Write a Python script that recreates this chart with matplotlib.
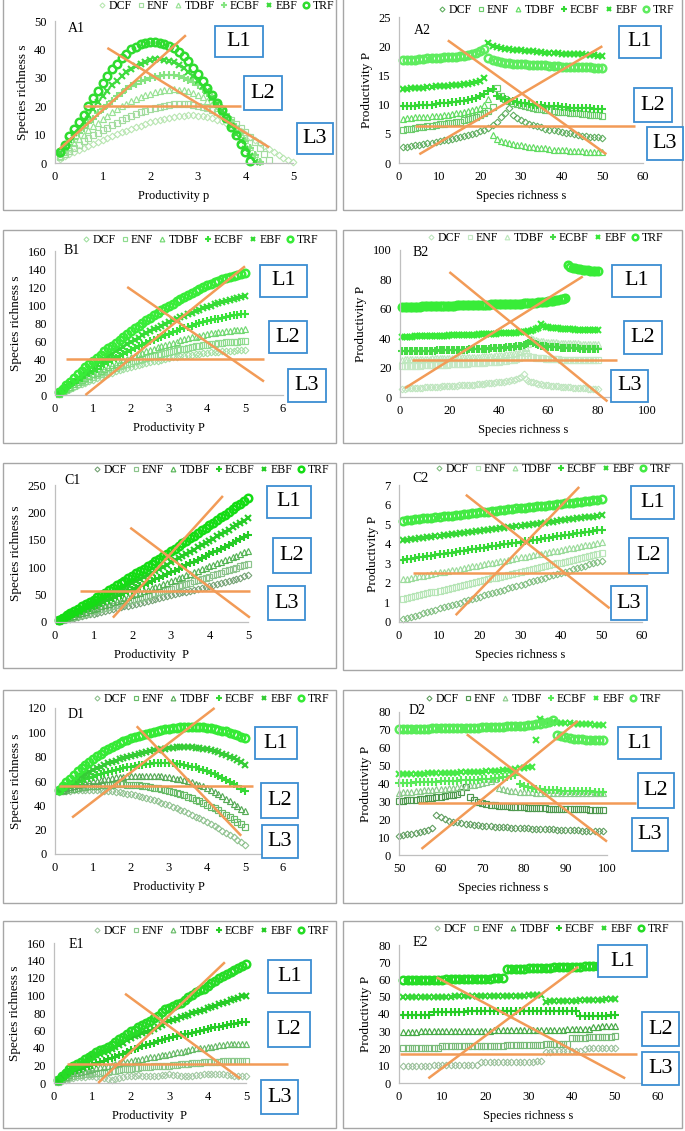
import matplotlib
matplotlib.use("Agg")
import matplotlib.pyplot as plt
from matplotlib.patches import Rectangle

plt.rcParams['font.family'] = ['Liberation Serif', 'DejaVu Serif']

W, H = 685, 1131

# ---- x grids ----
P = [0.1, 0.2, 0.3, 0.4, 0.5, 0.6, 0.7, 0.8, 0.9, 1.0,
     1.1, 1.2, 1.3, 1.4, 1.5, 1.6, 1.7, 1.8, 1.9, 2.0,
     2.1, 2.2, 2.3, 2.4, 2.5, 2.6, 2.7, 2.8, 2.9, 3.0,
     3.1, 3.2, 3.3, 3.4, 3.5, 3.6, 3.7, 3.8, 3.9, 4.0,
     4.1, 4.2, 4.3, 4.4, 4.5, 4.6, 4.7, 4.8, 4.9, 5.0]
S50 = [1, 2, 3, 4, 5, 6, 7, 8, 9, 10, 11, 12, 13, 14, 15, 16, 17, 18, 19, 20,
       21, 22, 23, 24, 25, 26, 27, 28, 29, 30, 31, 32, 33, 34, 35, 36, 37, 38, 39, 40,
       41, 42, 43, 44, 45, 46, 47, 48, 49, 50]
S80 = S50 + [51, 52, 53, 54, 55, 56, 57, 58, 59, 60, 61, 62, 63, 64, 65, 66, 67, 68, 69, 70,
             71, 72, 73, 74, 75, 76, 77, 78, 79, 80]
SD = [50, 51, 52, 53, 54, 55, 56, 57, 58, 59, 60, 61, 62, 63, 64, 65, 66, 67, 68, 69,
      70, 71, 72, 73, 74, 75, 76, 77, 78, 79, 80, 81, 82, 83, 84, 85, 86, 87, 88, 89,
      90, 91, 92, 93, 94, 95, 96, 97, 98, 99]

forests = ["DCF", "ENF", "TDBF", "ECBF", "EBF", "TRF"]

# ---- A1: species richness vs productivity ----
A1_DCF = [1.5, 2.3, 3.1, 3.9, 4.6, 5.3, 6, 6.7, 7.4, 8.1, 8.8, 9.5, 10.2, 10.8, 11.4, 12, 12.6, 13.2, 13.8, 14.3,
          14.8, 15.2, 15.6, 16, 16.3, 16.5, 16.7, 16.8, 16.8, 16.7, 16.5, 16.2, 15.8, 15.3, 14.7, 14, 13.2, 12.3, 11.3, 10.3,
          9.2, 8.1, 7, 5.9, 4.8, 3.8, 2.8, 1.9, 1, 0.3]
A1_ENF = [2, 3, 4.2, 5.4, 6.5, 7.6, 8.7, 9.7, 10.7, 11.6, 12.5, 13.4, 14.2, 15, 15.8, 16.5, 17.2, 17.8, 18.4, 18.9,
          19.4, 19.8, 20.2, 20.5, 20.7, 20.8, 20.8, 20.7, 20.5, 20.2, 19.8, 19.3, 18.7, 18, 17.1, 16.1, 15, 13.8, 12.4, 10.9,
          9.2, 7.4, 5.4, 3.3, 1.1]
A1_TDBF = [2.5, 4, 5.5, 7, 8.5, 10, 11.5, 13, 14.2, 15.5, 16.7, 17.8, 18.9, 19.9, 20.8, 21.7, 22.5, 23.2, 23.8, 24.4,
           24.9, 25.3, 25.6, 25.8, 25.9, 25.8, 25.6, 25.2, 24.7, 24, 23.1, 22, 20.8, 19.4, 17.9, 16.2, 14.3, 12.3, 10.2, 8,
           5.6, 3.2, 0.8]
A1_ECBF = [3, 4.5, 6.5, 8.5, 10.5, 12.5, 14, 15.5, 17.5, 19, 20.5, 22, 23.5, 24.7, 25.9, 27, 27.9, 28.7, 29.4, 30,
           30.4, 30.7, 30.9, 31, 30.9, 30.6, 30.1, 29.4, 28.5, 27.4, 26.1, 24.7, 23.1, 21.3, 19.4, 17.3, 15.1, 12.8, 10.4, 7.9,
           5.3, 2.7, 0.3]
A1_EBF = [3.5, 5.5, 8, 10.5, 12.5, 14.5, 17, 19, 21.5, 23.5, 25.5, 27.5, 29, 30.5, 32, 33.2, 34.2, 35, 35.7, 36.2,
          36.5, 36.6, 36.4, 36, 35.4, 34.6, 33.5, 32.2, 30.7, 29, 27.2, 25.2, 23, 20.7, 18.2, 15.6, 13, 10.3, 7.6, 4.9,
          2.3, 0.3]
A1_TRF = [4, 6.5, 9.5, 12, 14.5, 17, 20, 23, 25.5, 28, 30.5, 33, 35, 37, 38.5, 40, 41, 41.8, 42.3, 42.6,
          42.6, 42.4, 42, 41.3, 40.4, 39.2, 37.7, 35.8, 33.6, 31.2, 28.8, 26.3, 23.8, 21.2, 18.5, 15.7, 12.8, 9.8, 6.8, 3.8,
          0.8]

# ---- A2: productivity vs species richness ----
A2_DCF = [2.7, 2.8, 2.9, 3.0, 3.1, 3.3, 3.4, 3.5, 3.6, 3.8, 3.9, 4.0, 4.1, 4.3, 4.4, 4.6, 4.8, 5.0, 5.2, 5.4,
          5.7, 6.0, 6.5, 7.1, 7.9, 8.6, 9.4, 8.3, 7.7, 7.3, 7.0, 6.7, 6.5, 6.3, 6.1, 5.9, 5.7, 5.6, 5.4, 5.3,
          5.2, 5.1, 4.9, 4.8, 4.7, 4.6, 4.5, 4.4, 4.4, 4.3]
A2_ENF = [5.7, 5.8, 5.9, 6.0, 6.1, 6.2, 6.3, 6.4, 6.5, 6.6, 6.7, 6.8, 6.9, 7.0, 7.1, 7.3, 7.5, 7.7, 7.9, 8.2,
          8.5, 8.9, 9.6, 12.8, 11.4, 10.9, 10.6, 10.3, 10.1, 9.9, 9.7, 9.6, 9.4, 9.3, 9.2, 9.1, 9.0, 8.9, 8.8, 8.8,
          8.7, 8.6, 8.6, 8.5, 8.4, 8.4, 8.3, 8.3, 8.2, 8.1]
A2_TDBF = [7.6, 7.7, 7.7, 7.8, 7.8, 7.9, 7.9, 8.0, 8.1, 8.1, 8.2, 8.3, 8.4, 8.5, 8.6, 8.7, 8.9, 9.0, 9.2, 9.5,
           10.0, 10.9, 4.8, 4.1, 3.8, 3.6, 3.4, 3.3, 3.1, 3.0, 2.9, 2.8, 2.7, 2.6, 2.5, 2.5, 2.4, 2.3, 2.3, 2.2,
           2.2, 2.1, 2.1, 2.0, 2.0, 1.9, 1.9, 1.9, 1.8, 1.8]
A2_ECBF = [9.7, 9.7, 9.8, 9.8, 9.9, 9.9, 10.0, 10.0, 10.1, 10.2, 10.2, 10.3, 10.4, 10.5, 10.6, 10.7, 10.8, 11.0, 11.2, 11.5,
           11.9, 12.4, 12.7, 11.4, 11.1, 10.9, 10.7, 10.6, 10.4, 10.3, 10.2, 10.1, 10.0, 9.9, 9.9, 9.8, 9.8, 9.7, 9.7, 9.6,
           9.6, 9.5, 9.5, 9.5, 9.4, 9.4, 9.4, 9.3, 9.3, 9.3]
A2_EBF = [12.7, 12.7, 12.8, 12.8, 12.9, 12.9, 13.0, 13.0, 13.1, 13.1, 13.2, 13.2, 13.3, 13.4, 13.4, 13.5, 13.6, 13.7, 13.9, 14.1,
          14.5, 20.6, 20.0, 19.8, 19.7, 19.6, 19.5, 19.4, 19.3, 19.3, 19.2, 19.1, 19.1, 19.0, 19.0, 18.9, 18.9, 18.8, 18.8, 18.7,
          18.7, 18.7, 18.6, 18.6, 18.6, 18.5, 18.5, 18.5, 18.4, 18.4]
A2_TRF = [17.6, 17.6, 17.7, 17.7, 17.8, 17.8, 17.9, 17.9, 18.0, 18.0, 18.1, 18.1, 18.2, 18.2, 18.3, 18.4, 18.5, 18.6, 18.8, 19.1,
          19.5, 18.0, 17.6, 17.4, 17.3, 17.2, 17.1, 17.0, 17.0, 16.9, 16.9, 16.8, 16.8, 16.7, 16.7, 16.7, 16.6, 16.6, 16.6, 16.5,
          16.5, 16.5, 16.5, 16.4, 16.4, 16.4, 16.4, 16.3, 16.3, 16.3]

# ---- B1 ----
B1_DCF = [1, 3, 5, 7, 9, 10.6, 12.2, 13.8, 15.4, 17, 18.6, 20.2, 21.8, 23.4, 25, 26.2, 27.4, 28.6, 29.8, 31,
          32.1, 33.2, 34.3, 35.4, 36.5, 37.4, 38.3, 39.2, 40.1, 41, 41.7, 42.4, 43.1, 43.8, 44.5, 45, 45.5, 46, 46.5, 47,
          47.4, 47.8, 48.2, 48.6, 49, 49.2, 49.4, 49.6, 49.8, 50]
B1_ENF = [1, 3.2, 5.4, 7.7, 10, 12, 14, 16, 18, 20, 21.8, 23.6, 25.4, 27.2, 29, 30.4, 31.8, 33.2, 34.6, 36,
          37.3, 38.6, 39.9, 41.2, 42.5, 43.6, 44.7, 45.8, 46.9, 48, 48.9, 49.8, 50.7, 51.6, 52.5, 53.2, 53.9, 54.6, 55.3, 56,
          56.5, 57, 57.5, 58, 58.5, 58.8, 59.1, 59.4, 59.7, 60]
B1_TDBF = [1.5, 4, 6.5, 9, 12, 14.2, 16.4, 18.6, 20.8, 23, 25, 27, 29, 31, 33, 34.8, 36.6, 38.4, 40.2, 42,
           43.6, 45.2, 46.8, 48.4, 50, 51.4, 52.8, 54.2, 55.6, 57, 58.2, 59.4, 60.6, 61.8, 63, 64, 65, 66, 67, 68,
           68.6, 69.2, 69.8, 70.4, 71, 71.4, 71.8, 72.2, 72.6, 73]
B1_ECBF = [2, 5, 8, 11, 14, 16.6, 19.2, 21.8, 24.4, 27, 29.4, 31.8, 34.2, 36.6, 39, 41.2, 43.4, 45.6, 47.8, 50,
           52, 54, 56, 58, 60, 61.6, 63.2, 64.8, 66.4, 68, 69.6, 71.2, 72.8, 74.4, 76, 77.2, 78.4, 79.6, 80.8, 82,
           83, 84, 85, 86, 87, 87.7, 88.4, 89.1, 89.8, 90.5]
B1_EBF = [2.5, 6, 9.5, 13, 16, 19.2, 22.4, 25.6, 28.8, 32, 34.8, 37.6, 40.4, 43.2, 46, 48.6, 51.2, 53.8, 56.4, 59,
          61.4, 63.8, 66.2, 68.6, 71, 73, 75, 77, 79, 81, 82.8, 84.6, 86.4, 88.2, 90, 91.6, 93.2, 94.8, 96.4, 98,
          99.3, 100.6, 101.9, 103.2, 104.5, 105.7, 106.9, 108.1, 109.3, 110.5]
B1_TRF = [3, 7, 11, 15, 19, 23, 27, 31, 34.5, 38, 41.5, 45, 48.5, 52, 55, 58.3, 61.5, 64.7, 67.9, 71,
          74, 77, 80, 83, 86, 88.7, 91.3, 94, 96.5, 99, 101.5, 104, 106.4, 108.7, 111, 113.2, 115.4, 117.6, 119.8, 122,
          123.7, 125.4, 127, 128.5, 130, 131.3, 132.5, 133.7, 134.9, 136]

# ---- B2 ----
B2_DCF = [5.6, 5.7, 5.8, 5.9, 6.0, 6.1, 6.2, 6.3, 6.4, 6.5, 6.6, 6.7, 6.8, 6.9, 7.0, 7.1, 7.2, 7.3, 7.4, 7.5,
          7.6, 7.7, 7.8, 7.9, 8.0, 8.1, 8.2, 8.3, 8.4, 8.5, 8.7, 8.8, 8.9, 9.1, 9.2, 9.4, 9.5, 9.7, 9.9, 10.1,
          10.3, 10.5, 10.8, 11.1, 11.4, 11.8, 12.3, 12.9, 13.8, 15.8, 12.2, 11.2, 10.5, 10.0, 9.5, 9.1, 8.8, 8.5, 8.2, 8.0,
          7.8, 7.6, 7.4, 7.2, 7.0, 6.9, 6.7, 6.6, 6.5, 6.3, 6.2, 6.1, 6.0, 5.9, 5.8, 5.7, 5.6, 5.5, 5.4, 5.3]
B2_ENF = [21.0, 21.1, 21.1, 21.2, 21.2, 21.3, 21.4, 21.4, 21.5, 21.5, 21.6, 21.7, 21.7, 21.8, 21.9, 21.9, 22.0, 22.1, 22.1, 22.2,
          22.3, 22.3, 22.4, 22.5, 22.6, 22.6, 22.7, 22.8, 22.9, 23.0, 23.1, 23.2, 23.3, 23.4, 23.5, 23.6, 23.7, 23.8, 24.0, 24.1,
          24.3, 24.5, 24.7, 24.9, 25.2, 25.5, 25.9, 26.4, 27.0, 28.0, 29.6, 28.0, 27.4, 27.0, 26.7, 26.5, 26.3, 26.2, 26.0, 25.9,
          25.8, 25.7, 25.7, 25.6, 25.5, 25.5, 25.4, 25.4, 25.3, 25.3, 25.2, 25.2, 25.2, 25.1, 25.1, 25.1, 25.0, 25.0, 25.0, 24.9]
B2_TDBF = [25.5, 25.6, 25.6, 25.7, 25.7, 25.8, 25.8, 25.9, 25.9, 26.0, 26.0, 26.1, 26.2, 26.2, 26.3, 26.3, 26.4, 26.5, 26.5, 26.6,
           26.7, 26.7, 26.8, 26.9, 26.9, 27.0, 27.1, 27.2, 27.3, 27.3, 27.4, 27.5, 27.6, 27.7, 27.8, 27.9, 28.0, 28.2, 28.3, 28.5,
           28.6, 28.8, 29.0, 29.2, 29.5, 29.8, 30.1, 30.5, 31.0, 31.7, 33.0, 36.0, 40.0, 39.3, 38.8, 38.4, 38.1, 37.9, 37.7, 37.5,
           37.4, 37.2, 37.1, 37.0, 36.9, 36.8, 36.7, 36.6, 36.6, 36.5, 36.4, 36.4, 36.3, 36.3, 36.2, 36.2, 36.1, 36.1, 36.0, 36.0]
B2_ECBF = [31.0, 31.0, 31.1, 31.1, 31.2, 31.2, 31.3, 31.3, 31.4, 31.4, 31.5, 31.5, 31.6, 31.6, 31.7, 31.7, 31.8, 31.8, 31.9, 31.9,
           32.0, 32.0, 32.1, 32.1, 32.2, 32.2, 32.3, 32.4, 32.4, 32.5, 32.6, 32.6, 32.7, 32.8, 32.9, 32.9, 33.0, 33.1, 33.2, 33.3,
           33.4, 33.5, 33.7, 33.8, 34.0, 34.2, 34.4, 34.7, 35.0, 35.4, 36.0, 36.8, 38.0, 36.4, 35.8, 35.3, 35.0, 34.7, 34.5, 34.3,
           34.1, 34.0, 33.8, 33.7, 33.6, 33.5, 33.4, 33.3, 33.2, 33.1, 33.1, 33.0, 32.9, 32.9, 32.8, 32.8, 32.7, 32.7, 32.6, 32.6]
B2_EBF = [40.9, 41.0, 41.0, 41.1, 41.1, 41.2, 41.2, 41.3, 41.3, 41.4, 41.4, 41.5, 41.5, 41.6, 41.6, 41.7, 41.7, 41.8, 41.8, 41.9,
          41.9, 42.0, 42.0, 42.1, 42.1, 42.2, 42.3, 42.3, 42.4, 42.4, 42.5, 42.6, 42.6, 42.7, 42.8, 42.8, 42.9, 43.0, 43.1, 43.2,
          43.2, 43.3, 43.4, 43.5, 43.6, 43.7, 43.8, 44.0, 44.1, 44.3, 44.5, 44.8, 45.1, 45.5, 46.1, 47.0, 49.6, 48.3, 47.8, 47.5,
          47.2, 47.0, 46.8, 46.7, 46.5, 46.4, 46.3, 46.2, 46.1, 46.0, 45.9, 45.9, 45.8, 45.7, 45.7, 45.6, 45.6, 45.5, 45.5, 45.4]
B2_TRF = [61.2, 61.2, 61.3, 61.3, 61.4, 61.4, 61.5, 61.5, 61.6, 61.6, 61.7, 61.7, 61.8, 61.8, 61.9, 61.9, 62.0, 62.0, 62.1, 62.1,
          62.2, 62.2, 62.3, 62.3, 62.4, 62.4, 62.5, 62.5, 62.6, 62.6, 62.7, 62.7, 62.8, 62.8, 62.9, 62.9, 63.0, 63.0, 63.1, 63.1,
          63.2, 63.2, 63.3, 63.3, 63.4, 63.4, 63.5, 63.5, 63.6, 63.7, 63.8, 63.9, 64.0, 64.1, 64.2, 64.3, 64.4, 64.6, 64.8, 65.0,
          65.2, 65.5, 65.8, 66.1, 66.5, 67.0, 67.6, 89.5, 88.6, 88.0, 87.5, 87.1, 86.8, 86.5, 86.3, 86.1, 85.9, 85.8, 85.6, 85.5]

# ---- C1 ----
C1_DCF = [1.5, 3, 4.6, 6.1, 7.6, 9.2, 10.7, 12.3, 13.8, 15.4, 17, 18.6, 20.2, 21.8, 23.4, 25.1, 26.7, 28.4, 30, 31.7,
          33.3, 35, 36.7, 38.4, 40, 41.7, 43.5, 45.2, 46.9, 48.7, 50.4, 52.1, 53.9, 55.6, 57.4, 59.2, 61, 62.8, 64.6, 66.4,
          68.2, 70, 71.9, 73.7, 75.6, 77.4, 79.3, 81.2, 83.1, 85]
C1_ENF = [1.9, 3.8, 5.7, 7.6, 9.5, 11.5, 13.4, 15.4, 17.3, 19.3, 21.3, 23.3, 25.3, 27.3, 29.3, 31.3, 33.4, 35.4, 37.5, 39.6,
          41.6, 43.7, 45.8, 47.9, 50, 52.2, 54.3, 56.5, 58.6, 60.8, 63, 65.1, 67.4, 69.6, 71.8, 74, 76.2, 78.5, 80.7, 83,
          85.3, 87.6, 89.9, 92.2, 94.5, 96.8, 99.2, 101.5, 103.9, 106.2]
C1_TDBF = [2.3, 4.6, 7, 9.3, 11.7, 14, 16.4, 18.8, 21.2, 23.6, 26, 28.5, 30.9, 33.4, 35.8, 38.3, 40.8, 43.4, 45.9, 48.4,
           50.9, 53.5, 56.1, 58.7, 61.2, 63.8, 66.5, 69.1, 71.7, 74.4, 77, 79.7, 82.4, 85.1, 87.8, 90.6, 93.3, 96, 98.8, 101.5,
           104.3, 107.1, 109.9, 112.8, 115.6, 118.5, 121.3, 124.2, 127.1, 130]
C1_ECBF = [2.8, 5.6, 8.5, 11.3, 14.2, 17.1, 20, 22.9, 25.8, 28.7, 31.7, 34.7, 37.7, 40.6, 43.6, 46.7, 49.7, 52.8, 55.9, 59,
           62, 65.1, 68.3, 71.4, 74.6, 77.7, 80.9, 84.1, 87.3, 90.6, 93.8, 97, 100.3, 103.6, 106.9, 110.2, 113.5, 116.9, 120.3, 123.6,
           127, 130.4, 133.8, 137.3, 140.8, 144.2, 147.7, 151.2, 154.7, 158.2]
C1_EBF = [3.4, 6.8, 10.2, 13.6, 17, 20.5, 24, 27.5, 31, 34.5, 38, 41.6, 45.2, 48.8, 52.4, 56, 59.7, 63.4, 67.1, 70.8,
          74.5, 78.2, 82, 85.8, 89.6, 93.4, 97.2, 101, 104.8, 108.7, 112.6, 116.5, 120.4, 124.3, 128.2, 132.2, 136.2, 140.2, 144.2, 148.2,
          152.2, 156.2, 160.3, 164.4, 168.5, 172.6, 176.7, 180.8, 184.9, 189]
C1_TRF = [4.0, 8.0, 12.1, 16.2, 20.3, 24.4, 28.5, 32.7, 36.8, 41.0, 45.3, 49.5, 53.8, 58.0, 62.3, 66.7, 71.0, 75.4, 79.8, 84.2,
          88.6, 93.0, 97.5, 102.0, 106.5, 111.0, 115.6, 120.2, 124.7, 129.4, 134.0, 138.6, 143.3, 148.0, 152.7, 157.5, 162.2, 167.0, 171.8, 176.6,
          181.5, 186.3, 191.2, 196.1, 201.1, 206.0, 211.0, 216.0, 221.0, 226.0]

# ---- C2 ----
C2_DCF = [0.14, 0.20, 0.26, 0.32, 0.38, 0.44, 0.50, 0.57, 0.63, 0.69, 0.75, 0.81, 0.87, 0.93, 0.99, 1.05, 1.11, 1.17, 1.23, 1.30,
          1.36, 1.42, 1.48, 1.54, 1.60, 1.66, 1.72, 1.78, 1.84, 1.90, 1.96, 2.02, 2.09, 2.15, 2.21, 2.27, 2.33, 2.39, 2.45, 2.51,
          2.57, 2.63, 2.69, 2.75, 2.81, 2.88, 2.94, 3.00, 3.06, 3.12]
C2_ENF = [1.17, 1.22, 1.27, 1.31, 1.36, 1.41, 1.46, 1.51, 1.55, 1.60, 1.65, 1.70, 1.75, 1.79, 1.84, 1.89, 1.94, 1.99, 2.03, 2.08,
          2.13, 2.18, 2.23, 2.27, 2.32, 2.37, 2.42, 2.47, 2.51, 2.56, 2.61, 2.66, 2.71, 2.75, 2.80, 2.85, 2.90, 2.95, 2.99, 3.04,
          3.09, 3.14, 3.19, 3.23, 3.28, 3.33, 3.38, 3.43, 3.47, 3.52]
C2_TDBF = [2.18, 2.22, 2.26, 2.30, 2.33, 2.37, 2.41, 2.45, 2.49, 2.53, 2.57, 2.60, 2.64, 2.68, 2.72, 2.76, 2.80, 2.84, 2.87, 2.91,
           2.95, 2.99, 3.03, 3.07, 3.11, 3.14, 3.18, 3.22, 3.26, 3.30, 3.34, 3.38, 3.41, 3.45, 3.49, 3.53, 3.57, 3.61, 3.65, 3.68,
           3.72, 3.76, 3.80, 3.84, 3.88, 3.92, 3.95, 3.99, 4.03, 4.07]
C2_ECBF = [3.17, 3.20, 3.23, 3.26, 3.30, 3.33, 3.36, 3.39, 3.42, 3.45, 3.49, 3.52, 3.55, 3.58, 3.61, 3.64, 3.68, 3.71, 3.74, 3.77,
           3.80, 3.83, 3.87, 3.90, 3.93, 3.96, 3.99, 4.02, 4.05, 4.09, 4.12, 4.15, 4.18, 4.21, 4.24, 4.28, 4.31, 4.34, 4.37, 4.40,
           4.43, 4.47, 4.50, 4.53, 4.56, 4.59, 4.62, 4.66, 4.69, 4.72]
C2_EBF = [4.17, 4.20, 4.22, 4.25, 4.27, 4.30, 4.33, 4.35, 4.38, 4.40, 4.43, 4.46, 4.48, 4.51, 4.53, 4.56, 4.59, 4.61, 4.64, 4.67,
          4.69, 4.72, 4.74, 4.77, 4.80, 4.82, 4.85, 4.87, 4.90, 4.93, 4.95, 4.98, 5.00, 5.03, 5.06, 5.08, 5.11, 5.13, 5.16, 5.19,
          5.21, 5.24, 5.26, 5.29, 5.32, 5.34, 5.37, 5.39, 5.42, 5.45]
C2_TRF = [5.18, 5.20, 5.22, 5.25, 5.27, 5.29, 5.31, 5.33, 5.36, 5.38, 5.40, 5.42, 5.44, 5.47, 5.49, 5.51, 5.53, 5.55, 5.58, 5.60,
          5.62, 5.64, 5.66, 5.69, 5.71, 5.73, 5.75, 5.77, 5.80, 5.82, 5.84, 5.86, 5.88, 5.91, 5.93, 5.95, 5.97, 5.99, 6.02, 6.04,
          6.06, 6.08, 6.10, 6.13, 6.15, 6.17, 6.19, 6.21, 6.24, 6.26]

# ---- D1 ----
D1_DCF = [51, 51.4, 51.7, 52, 52.2, 52.4, 52.5, 52.6, 52.6, 52.6, 52.5, 52.3, 52.1, 51.8, 51.5, 51.1, 50.7, 50.2, 49.6, 49,
          48.3, 47.6, 46.8, 46, 45.1, 44.2, 43.2, 42.2, 41.1, 40, 38.8, 37.6, 36.3, 35, 33.6, 32.2, 30.7, 29.2, 27.6, 26,
          24.4, 22.7, 21, 19.2, 17.4, 15.5, 13.6, 11.6, 9.6, 7.5]
D1_ENF = [51.5, 52.1, 52.7, 53.3, 53.8, 54.3, 54.8, 55.2, 55.6, 56, 56.3, 56.6, 56.8, 57, 57.1, 57.2, 57.2, 57.2, 57.1, 56.9,
          56.7, 56.4, 56, 55.6, 55.1, 54.6, 54, 53.3, 52.6, 51.8, 51, 50.1, 49.1, 48.1, 47, 45.8, 44.6, 43.3, 41.9, 40.5,
          39, 37.4, 35.8, 34.1, 32.3, 30.4, 28.5, 26.5, 24.4, 22.3]
D1_TDBF = [52, 53, 54, 55, 55.9, 56.8, 57.6, 58.4, 59.1, 59.8, 60.4, 61, 61.5, 62, 62.5, 62.9, 63.3, 63.6, 63.9, 64.1,
           64.3, 64.4, 64.5, 64.5, 64.4, 64.3, 64.1, 63.8, 63.4, 63, 62.5, 61.9, 61.3, 60.6, 59.8, 58.9, 57.9, 56.8, 55.5, 54.1,
           52.5, 51, 49.3, 47.5, 45.6, 43.6, 41.5, 39.4, 37.2, 35]
D1_ECBF = [52, 53.5, 55, 56.4, 57.7, 59, 60.2, 61.4, 62.5, 63.6, 64.6, 65.6, 66.5, 67.4, 68.2, 69, 69.8, 70.5, 71.2, 71.8,
           72.4, 72.9, 73.4, 73.8, 74.1, 74.4, 74.6, 74.7, 74.7, 74.6, 74.4, 74.1, 73.7, 73.2, 72.6, 71.9, 71.1, 70.2, 69.2, 68.1,
           66.9, 65.6, 64.2, 62.7, 61.1, 59.4, 57.6, 55.7, 53.7, 51.6]
D1_EBF = [52, 54.3, 56.5, 58.6, 60.6, 62.5, 64.3, 66, 67.6, 69.1, 70.5, 71.9, 73.2, 74.4, 75.6, 76.7, 77.8, 78.8, 79.8, 80.7,
          81.6, 82.4, 83.2, 83.9, 84.6, 85.2, 85.8, 86.3, 86.7, 87.1, 87.4, 87.6, 87.7, 87.8, 87.8, 87.7, 87.4, 87, 86.5, 85.9,
          85.2, 84.4, 83.5, 82.5, 81.4, 80.1, 78.7, 77.1, 75.3, 73.4]
D1_TRF = [52.2, 55.6, 58.9, 62, 65, 67.9, 70.6, 73.2, 75.7, 78.1, 80.3, 82.4, 84.4, 86.3, 88, 89.6, 91.1, 92.5, 93.8, 95,
          96.1, 97.1, 98.1, 99, 99.8, 100.6, 101.3, 101.9, 102.5, 103, 103.4, 103.8, 104.1, 104.3, 104.4, 104.5, 104.4, 104.3, 104, 103.7,
          103.3, 102.8, 102.2, 101.5, 100.7, 99.8, 98.8, 97.7, 96.4, 95]

# ---- D2 ----
D2_DCF = [10.8, 11.1, 11.5, 11.9, 12.3, 12.8, 13.4, 14.2, 15.3, 22.3, 21.0, 20.0, 19.3, 18.7, 18.2, 17.8, 17.5, 17.2, 16.9, 16.7,
          16.5, 16.3, 16.1, 15.9, 15.8, 15.6, 15.5, 15.3, 15.2, 15.1, 15.0, 14.9, 14.8, 14.7, 14.6, 14.5, 14.4, 14.3, 14.2, 14.1,
          14.0, 14.0, 13.9, 13.8, 13.7, 13.7, 13.6, 13.5, 13.5, 13.4]
D2_ENF = [30.2, 30.4, 30.6, 30.8, 31.0, 31.2, 31.4, 31.7, 31.9, 32.2, 32.5, 32.9, 33.3, 33.8, 34.4, 35.2, 37.8, 32.6, 30.8, 29.8,
          29.1, 28.6, 28.2, 27.9, 27.6, 27.4, 27.2, 27.0, 26.8, 26.7, 26.6, 26.5, 26.4, 26.3, 26.2, 26.1, 26.0, 25.9, 25.9, 25.8,
          25.7, 25.7, 25.6, 25.6, 25.5, 25.5, 25.4, 25.4, 25.3, 25.3]
D2_TDBF = [34.9, 35.1, 35.3, 35.5, 35.7, 35.9, 36.1, 36.3, 36.5, 36.7, 36.9, 37.1, 37.4, 37.6, 37.9, 38.2, 38.6, 39.0, 39.4, 39.8,
           40.3, 40.9, 41.6, 42.4, 37.6, 36.8, 36.3, 35.9, 35.6, 35.4, 35.2, 35.1, 35.0, 34.9, 34.9, 34.8, 34.8, 34.7, 34.7, 34.7,
           34.6, 34.6, 34.6, 34.6, 34.5, 34.5, 34.5, 34.5, 34.5, 34.5]
D2_ECBF = [40.2, 40.3, 40.4, 40.5, 40.6, 40.7, 40.8, 40.9, 41.0, 41.1, 41.2, 41.3, 41.4, 41.5, 41.6, 41.7, 41.8, 41.9, 42.0, 42.1,
           42.3, 42.5, 42.7, 42.9, 43.2, 43.5, 43.8, 44.2, 44.6, 40.0, 38.8, 38.0, 37.4, 37.0, 36.7, 36.5, 36.3, 36.2, 36.1, 36.0,
           35.9, 35.8, 35.8, 35.7, 35.7, 35.6, 35.6, 35.5, 35.5, 35.5]
D2_EBF = [45.2, 45.3, 45.3, 45.4, 45.4, 45.5, 45.5, 45.6, 45.7, 45.7, 45.8, 45.9, 45.9, 46.0, 46.1, 46.2, 46.3, 46.4, 46.5, 46.6,
          46.7, 46.8, 46.9, 47.0, 47.2, 47.4, 47.6, 47.8, 48.1, 48.4, 48.8, 49.1, 49.5, 64.6, 75.9, 75.0, 74.5, 74.2, 74.0, 73.8,
          73.7, 73.6, 73.5, 73.4, 73.3, 73.2, 73.1, 73.0, 72.9, 72.9]
D2_TRF = [70.4, 70.4, 70.5, 70.5, 70.6, 70.6, 70.7, 70.7, 70.8, 70.8, 70.9, 70.9, 71.0, 71.0, 71.1, 71.1, 71.2, 71.2, 71.3, 71.3,
          71.4, 71.5, 71.5, 71.6, 71.7, 71.8, 71.9, 72.0, 72.1, 72.2, 72.4, 72.6, 72.8, 73.1, 73.5, 74.0, 74.6, 75.3, 67.0, 66.3,
          65.8, 65.4, 65.1, 64.9, 64.7, 64.5, 64.4, 64.3, 64.2, 64.1]

# ---- E1 ----
E1_DCF = [1, 2.5, 4, 5, 6, 6.5, 7, 7, 7.5, 7.5, 7, 6.5, 6, 5, 4, 5, 6, 7, 7.5, 8,
          8.5, 9, 8.5, 8, 7.5, 8, 8.5, 9, 9.5, 10, 9.5, 9, 8.5, 8, 7.5, 8, 9, 9.5, 10, 10,
          10.5, 10, 10.5, 10, 9.5, 9, 8.5, 8.5, 8, 8]
E1_ENF = [1.5, 3.5, 5.5, 7, 8, 9, 9.5, 10, 10.5, 11, 11.5, 12, 12.5, 13, 13.5, 14, 15, 15.5, 16, 16.5,
          17, 17.5, 18, 18, 18.5, 19, 19.5, 19.5, 20, 20, 20.5, 21, 21.5, 22, 22, 22.5, 23, 23, 23.5, 23.5,
          24, 24.5, 24.5, 25, 25, 25, 25.5, 25.5, 25.5, 25.5]
E1_TDBF = [2, 4.5, 7, 9, 11, 12, 13, 14, 15, 16, 17, 18, 18.5, 19.5, 20.5, 21.5, 22.5, 23.5, 24.5, 25.5,
           26, 26.5, 27.5, 28.5, 29.5, 30, 31, 32, 32.5, 33, 34, 35, 35.5, 36.5, 37.5, 38.5, 39.5, 40, 40.5, 41,
           41.5, 42.5, 43.5, 44, 44.5, 44.5, 45, 45, 45, 45]
E1_ECBF = [2.5, 5.5, 8.5, 11, 13.5, 15, 16.5, 18, 19.5, 21, 22.5, 24, 25.5, 27, 28.5, 30, 31.5, 33.5, 35.5, 37.5,
           39, 40.5, 42, 43.5, 45, 46, 47.5, 49, 50.5, 51.5, 52.5, 53.5, 54.5, 55.5, 56.5, 57.5, 58.5, 59.5, 60.5, 61.5,
           62.5, 63.5, 64.5, 65.5, 66.5, 67.3, 68, 68.8, 69.5, 70]
E1_EBF = [3, 7, 11, 14.5, 18, 20.5, 23, 25.5, 27.5, 29.5, 31.5, 33.5, 35.5, 37, 39, 41, 43, 46, 49, 51.5,
          53.5, 55, 57, 58.5, 60, 62, 64, 66.5, 69, 70.5, 72, 73.5, 75, 76.5, 78, 79.5, 81, 82.5, 84, 85.5,
          87, 88.5, 90, 91.5, 93, 94.5, 96, 97.5, 99, 100]
E1_TRF = [3, 8, 12, 16, 19.5, 22, 24.5, 27, 29.5, 32, 35, 37.5, 39, 41, 43.5, 46.5, 50, 53, 56, 59,
          61, 63.5, 66, 68.5, 71, 74, 77, 81, 84.5, 86, 88, 90, 92, 95, 98, 101, 104, 106, 108, 111,
          114, 117, 120, 122.5, 125, 127, 129.5, 131.5, 134, 136]

# ---- E2 ----
E2_DCF = [9.9, 9.9, 10.0, 10.0, 10.1, 10.1, 10.1, 10.2, 10.2, 10.3, 10.3, 10.3, 10.4, 10.4, 10.5, 10.5, 10.5, 10.6, 12.0, 12.0,
          12.1, 12.1, 12.2, 12.2, 12.2, 12.3, 12.3, 12.3, 12.4, 12.4, 12.4, 12.5, 12.5, 18.2, 18.2, 18.3, 18.3, 18.4, 18.4, 18.5,
          18.5, 18.6, 20.0, 20.1, 20.1, 20.2, 20.2, 20.3, 20.3, 20.4]
E2_ENF = [20.1, 20.1, 20.2, 20.2, 20.3, 20.3, 20.4, 20.4, 20.5, 21.2, 21.2, 21.3, 21.3, 21.4, 21.4, 21.5, 21.5, 21.5, 21.6, 21.6,
          21.6, 21.7, 21.7, 21.7, 21.8, 21.8, 21.8, 21.9, 21.9, 21.9, 22.0, 22.0, 22.0, 22.6, 22.6, 22.7, 22.7, 22.8, 22.8, 26.0,
          26.1, 26.2, 26.3, 26.4, 26.5, 26.6, 26.7, 26.8, 26.9, 27.0]
E2_TDBF = [29.7, 29.7, 29.8, 29.8, 29.9, 29.9, 29.9, 30.0, 30.0, 30.1, 30.1, 30.1, 30.2, 30.2, 30.2, 30.3, 30.3, 30.3, 30.4, 30.4,
           30.4, 30.5, 30.5, 30.5, 30.6, 30.6, 30.6, 30.7, 30.7, 30.7, 30.8, 30.8, 30.8, 30.9, 30.9, 30.9, 31.0, 31.0, 31.1, 31.1,
           31.2, 31.2, 31.3, 31.3, 32.6, 32.7, 32.8, 32.9, 33.0, 33.1]
E2_ECBF = [39.3, 39.3, 39.4, 39.4, 39.4, 39.5, 39.5, 41.2, 41.2, 41.3, 41.3, 41.3, 41.4, 41.4, 41.4, 41.5, 41.5, 41.5, 41.6, 41.6,
           41.6, 41.6, 41.7, 41.7, 41.7, 41.7, 41.7, 41.8, 41.8, 41.8, 41.8, 41.8, 41.8, 41.8, 41.8, 41.8, 41.8, 41.8, 41.8, 41.8,
           41.8, 39.0, 39.0, 39.0, 39.1, 39.1, 39.1, 39.1, 39.2, 39.2]
E2_EBF = [49.7, 49.7, 49.8, 49.8, 49.9, 49.9, 50.0, 50.0, 50.0, 50.1, 50.1, 50.1, 50.2, 50.2, 50.2, 50.3, 50.3, 50.3, 50.4, 50.4,
          50.4, 50.5, 50.5, 50.5, 50.6, 50.6, 50.6, 50.7, 50.7, 50.8, 50.8, 50.9, 50.9, 47.2, 47.3, 47.4, 47.5, 47.6, 47.7, 47.8,
          47.8, 47.9, 48.0, 48.1, 48.2, 48.3, 48.4, 48.5, 48.6, 48.7]
E2_TRF = [59.7, 59.7, 59.8, 59.8, 59.8, 59.9, 59.9, 59.9, 60.0, 60.0, 60.1, 60.1, 60.2, 60.2, 60.3, 60.3, 60.4, 60.4, 60.5, 60.5,
          60.5, 60.6, 60.6, 60.7, 65.9, 66.0, 66.1, 66.2, 66.3, 66.4, 66.5, 66.6, 66.7, 66.8, 66.9, 67.0, 67.0, 67.1, 67.2, 67.3,
          67.4, 67.5, 67.6, 67.7, 67.8, 67.8, 67.9, 68.0, 68.1, 68.2]

# ---- orange guide lines: (x0, x1), (y0, y1) for rising, falling, flat ----
A1_LX = [[0.1, 2.75], [1.1, 4.5], [0.6, 3.9]];    A1_LY = [[5, 45], [40.5, 5.5], [20, 20]]
A2_LX = [[5, 50], [12, 51], [4, 58]];             A2_LY = [[1.5, 20], [21, 1.5], [6.3, 6.3]]
B1_LX = [[0.8, 5], [1.9, 5.5], [0.3, 5.5]];       B1_LY = [[0, 143], [120, 15], [40, 40]]
B2_LX = [[2, 74], [20, 84], [5, 88]];             B2_LY = [[6, 82], [85, -3], [25, 25]]
C1_LX = [[1.5, 4.35], [1.95, 5.05], [0.65, 5.05]]; C1_LY = [[8, 230], [172, 8], [57, 57]]
C2_LX = [[14, 44.5], [16.5, 52], [3.5, 61.5]];    C2_LY = [[0.35, 6.9], [6.5, 0.7], [2.5, 2.5]]
D1_LX = [[0.45, 4.2], [2.15, 4.9], [0.1, 5.2]];   D1_LY = [[30, 120], [105, 15], [56, 56]]
D2_LX = [[55.4, 93], [66.3, 100], [54.5, 107]];   D2_LY = [[3.4, 75], [67.5, 7.5], [29.3, 29.3]]
E1_LX = [[1.15, 4.45], [1.85, 4.85], [0.35, 6.1]]; E1_LY = [[0, 138], [102, 5], [22, 22]]
E2_LX = [[6.8, 41.5], [8.7, 52.4], [0.2, 55.1]];  E2_LY = [[2.7, 67.4], [61.3, 2.7], [16.6, 16.6]]

# marker style per forest type: marker, size, edge width
MK = {"DCF": ("D", 3.4, 0.8), "ENF": ("s", 4.3, 0.85), "TDBF": ("^", 4.5, 0.85),
      "ECBF": ("+", 6.0, 1.5), "EBF": ("x", 4.8, 1.5), "TRF": ("o", 5.4, 1.8)}

panels = [
    dict(tag="A1", x=P, ys=[A1_DCF, A1_ENF, A1_TDBF, A1_ECBF, A1_EBF, A1_TRF],
         cols=["#b9e6b2", "#a3dc9f", "#98e294", "#86e482", "#3fdc3f", "#2fdc2f"],
         xlim=(0, 5), ylim=(0, 50), xt=[0, 1, 2, 3, 4, 5], yt=[0, 10, 20, 30, 40, 50],
         px=(55, 293, 21, 163), xl="Productivity p", yl="Species richness s",
         lx=A1_LX, ly=A1_LY, leg=(334, 6), tp=(68, 29), border=(3, -2, 336, 210),
         boxes=[(215, 26, 263, 57), (244, 76, 282, 110), (297, 123, 333, 154)]),
    dict(tag="A2", x=S50, ys=[A2_DCF, A2_ENF, A2_TDBF, A2_ECBF, A2_EBF, A2_TRF],
         cols=["#5fae5f", "#6ccb6c", "#62dc62", "#35d835", "#35e035", "#5fec5f"],
         xlim=(0, 60), ylim=(0, 25), xt=[0, 10, 20, 30, 40, 50, 60], yt=[0, 5, 10, 15, 20, 25],
         px=(399, 643, 17, 163), xl="Species richness s", yl="Productivity P",
         lx=A2_LX, ly=A2_LY, leg=(674, 10), tp=(414, 30), border=(343, -2, 682, 210),
         boxes=[(619, 26, 661, 58), (634, 88, 672, 122), (647, 127, 683, 160)]),
    dict(tag="B1", x=P, ys=[B1_DCF, B1_ENF, B1_TDBF, B1_ECBF, B1_EBF, B1_TRF],
         cols=["#a2e0a2", "#8fdc8f", "#72d872", "#38e238", "#35dc35", "#38ec38"],
         xlim=(0, 6), ylim=(0, 160), xt=[0, 1, 2, 3, 4, 5, 6], yt=[0, 20, 40, 60, 80, 100, 120, 140, 160],
         px=(55, 283, 251, 395), xl="Productivity P", yl="Species richness s",
         lx=B1_LX, ly=B1_LY, leg=(318, 240), tp=(64, 251), border=(3, 230, 336, 443),
         boxes=[(260, 265, 307, 297), (269, 321, 307, 353), (288, 369, 326, 402)]),
    dict(tag="B2", x=S80, ys=[B2_DCF, B2_ENF, B2_TDBF, B2_ECBF, B2_EBF, B2_TRF],
         cols=["#bfe6bf", "#c6e9c6", "#bde8bd", "#45da45", "#38ea38", "#38ec38"],
         xlim=(0, 100), ylim=(0, 100), xt=[0, 20, 40, 60, 80, 100], yt=[0, 20, 40, 60, 80, 100],
         px=(400, 647, 250, 397), xl="Species richness s", yl="Productivity P",
         lx=B2_LX, ly=B2_LY, leg=(663, 238), tp=(413, 253), border=(343, 230, 682, 443),
         boxes=[(612, 265, 661, 297), (624, 321, 662, 354), (611, 370, 648, 402)]),
    dict(tag="C1", x=P, ys=[C1_DCF, C1_ENF, C1_TDBF, C1_ECBF, C1_EBF, C1_TRF],
         cols=["#74a274", "#8cc48c", "#56b456", "#26cc26", "#26cc26", "#14dc14"],
         xlim=(0, 5), ylim=(0, 250), xt=[0, 1, 2, 3, 4, 5], yt=[0, 50, 100, 150, 200, 250],
         px=(55, 248, 485, 622), xl="Productivity  P", yl="Species richness s",
         lx=C1_LX, ly=C1_LY, leg=(329, 470), tp=(64, 480), border=(3, 463, 336, 668),
         boxes=[(267, 486, 311, 518), (273, 538, 311, 573), (268, 586, 305, 620)]),
    dict(tag="C2", x=S50, ys=[C2_DCF, C2_ENF, C2_TDBF, C2_ECBF, C2_EBF, C2_TRF],
         cols=["#82bf82", "#b8e6b8", "#9cdc9c", "#36d836", "#36d836", "#44ea44"],
         xlim=(0, 60), ylim=(0, 7), xt=[0, 10, 20, 30, 40, 50, 60], yt=[0, 1, 2, 3, 4, 5, 6, 7],
         px=(399, 642, 485, 622), xl="Species richness s", yl="Productivity P",
         lx=C2_LX, ly=C2_LY, leg=(671, 469), tp=(412, 478), border=(343, 463, 682, 670),
         boxes=[(631, 486, 674, 519), (629, 538, 668, 573), (611, 586, 647, 620)]),
    dict(tag="D1", x=P, ys=[D1_DCF, D1_ENF, D1_TDBF, D1_ECBF, D1_EBF, D1_TRF],
         cols=["#90c290", "#68bb68", "#56aa56", "#36d836", "#36cc36", "#36ea36"],
         xlim=(0, 6), ylim=(0, 120), xt=[0, 1, 2, 3, 4, 5, 6], yt=[0, 20, 40, 60, 80, 100, 120],
         px=(55, 283, 708, 854), xl="Productivity P", yl="Species richness s",
         lx=D1_LX, ly=D1_LY, leg=(329, 699), tp=(68, 714), border=(3, 690, 336, 903),
         boxes=[(255, 727, 297, 759), (261, 783, 298, 818), (262, 825, 298, 858)]),
    dict(tag="D2", x=SD, ys=[D2_DCF, D2_ENF, D2_TDBF, D2_ECBF, D2_EBF, D2_TRF],
         cols=["#609e60", "#4f994f", "#8acb8a", "#58ea58", "#46ea46", "#58ec58"],
         xlim=(50, 100), ylim=(0, 80), xt=[50, 60, 70, 80, 90, 100], yt=[0, 10, 20, 30, 40, 50, 60, 70, 80],
         px=(399, 607, 712, 855), xl="Species richness s", yl="Productivity P",
         lx=D2_LX, ly=D2_LY, leg=(661, 699), tp=(409, 711), border=(343, 690, 682, 903),
         boxes=[(618, 727, 661, 759), (638, 773, 674, 808), (632, 818, 668, 851)]),
    dict(tag="E1", x=P, ys=[E1_DCF, E1_ENF, E1_TDBF, E1_ECBF, E1_EBF, E1_TRF],
         cols=["#a2c9a2", "#8ac88a", "#68bb68", "#26cc26", "#26cc26", "#26dc26"],
         xlim=(0, 5), ylim=(0, 160), xt=[0, 1, 2, 3, 4, 5], yt=[0, 20, 40, 60, 80, 100, 120, 140, 160],
         px=(54, 246, 943, 1083), xl="Productivity  P", yl="Species richness s",
         lx=E1_LX, ly=E1_LY, leg=(329, 931), tp=(69, 945), border=(3, 921, 336, 1128),
         boxes=[(268, 960, 311, 993), (268, 1012, 310, 1047), (261, 1080, 298, 1114)]),
    dict(tag="E2", x=S50, ys=[E2_DCF, E2_ENF, E2_TDBF, E2_ECBF, E2_EBF, E2_TRF],
         cols=["#9bc19b", "#79bb79", "#46aa46", "#26cc26", "#36d836", "#26dc26"],
         xlim=(0, 60), ylim=(0, 80), xt=[0, 10, 20, 30, 40, 50, 60], yt=[0, 10, 20, 30, 40, 50, 60, 70, 80],
         px=(399, 658, 945, 1083), xl="Species richness s", yl="Productivity P",
         lx=E2_LX, ly=E2_LY, leg=(669, 929), tp=(413, 943), border=(343, 921, 682, 1128),
         boxes=[(598, 945, 647, 977), (642, 1012, 679, 1046), (642, 1052, 679, 1085)]),
]

fig = plt.figure(figsize=(W / 100, H / 100), dpi=100)
fig.patch.set_facecolor("white")

def fx(px):
    return px / W

def fy(py):
    return 1 - py / H

for pn in panels:
    b = pn["border"]
    fig.patches.append(Rectangle((fx(b[0]), fy(b[3])), fx(b[2] - b[0]), (b[3] - b[1]) / H,
                                 transform=fig.transFigure, fill=False, ec="#a6a6a6", lw=1.0, zorder=0))

    l, r, t, btm = pn["px"]
    ax = fig.add_axes([fx(l), fy(btm), fx(r - l), (btm - t) / H])
    ax.set_facecolor("none")
    handles = []
    for name, ys, c in zip(forests, pn["ys"], pn["cols"]):
        m, ms, mew = MK[name]
        filled = m in ("+", "x")
        h, = ax.plot(pn["x"][:len(ys)], ys, ls="none", marker=m, ms=ms, mew=mew,
                     mec=c, mfc=c if filled else "none", color=c, clip_on=False, zorder=2)
        handles.append(h)
    for xs, yv in zip(pn["lx"], pn["ly"]):
        ax.plot(xs, yv, color="#f29b57", lw=1.8, solid_capstyle="butt", clip_on=False, zorder=3)

    ax.set_xlim(*pn["xlim"])
    ax.set_ylim(*pn["ylim"])
    ax.set_xticks(pn["xt"])
    ax.set_yticks(pn["yt"])
    ax.tick_params(length=0, labelsize=9, pad=6)
    for s in ("top", "right"):
        ax.spines[s].set_visible(False)
    for s in ("left", "bottom"):
        ax.spines[s].set_color("#bfbfbf")
        ax.spines[s].set_linewidth(0.9)
    ax.set_xlabel(pn["xl"], fontsize=9, labelpad=5)
    ax.set_ylabel(pn["yl"], fontsize=9.5, labelpad=4)

    ax.legend(handles, forests, loc="center right", ncol=6, frameon=False,
              bbox_to_anchor=(fx(pn["leg"][0]), fy(pn["leg"][1])), bbox_transform=fig.transFigure,
              fontsize=8.5, handlelength=0.7, handletextpad=0.15, columnspacing=0.45,
              borderpad=0, borderaxespad=0, markerscale=0.75)

    fig.text(fx(pn["tp"][0]), fy(pn["tp"][1]), pn["tag"], fontsize=10, va="center", ha="left")

    for k, (x0, y0, x1, y1) in enumerate(pn["boxes"]):
        fig.patches.append(Rectangle((fx(x0), fy(y1)), fx(x1 - x0), (y1 - y0) / H,
                                     transform=fig.transFigure, fc="white", ec="#3b8ed2",
                                     lw=1.3, zorder=10))
        fig.text(fx((x0 + x1) / 2), fy((y0 + y1) / 2), "L%d" % (k + 1), fontsize=16,
                 ha="center", va="center", zorder=11)

fig.savefig("out.png", dpi=100, facecolor="white")
